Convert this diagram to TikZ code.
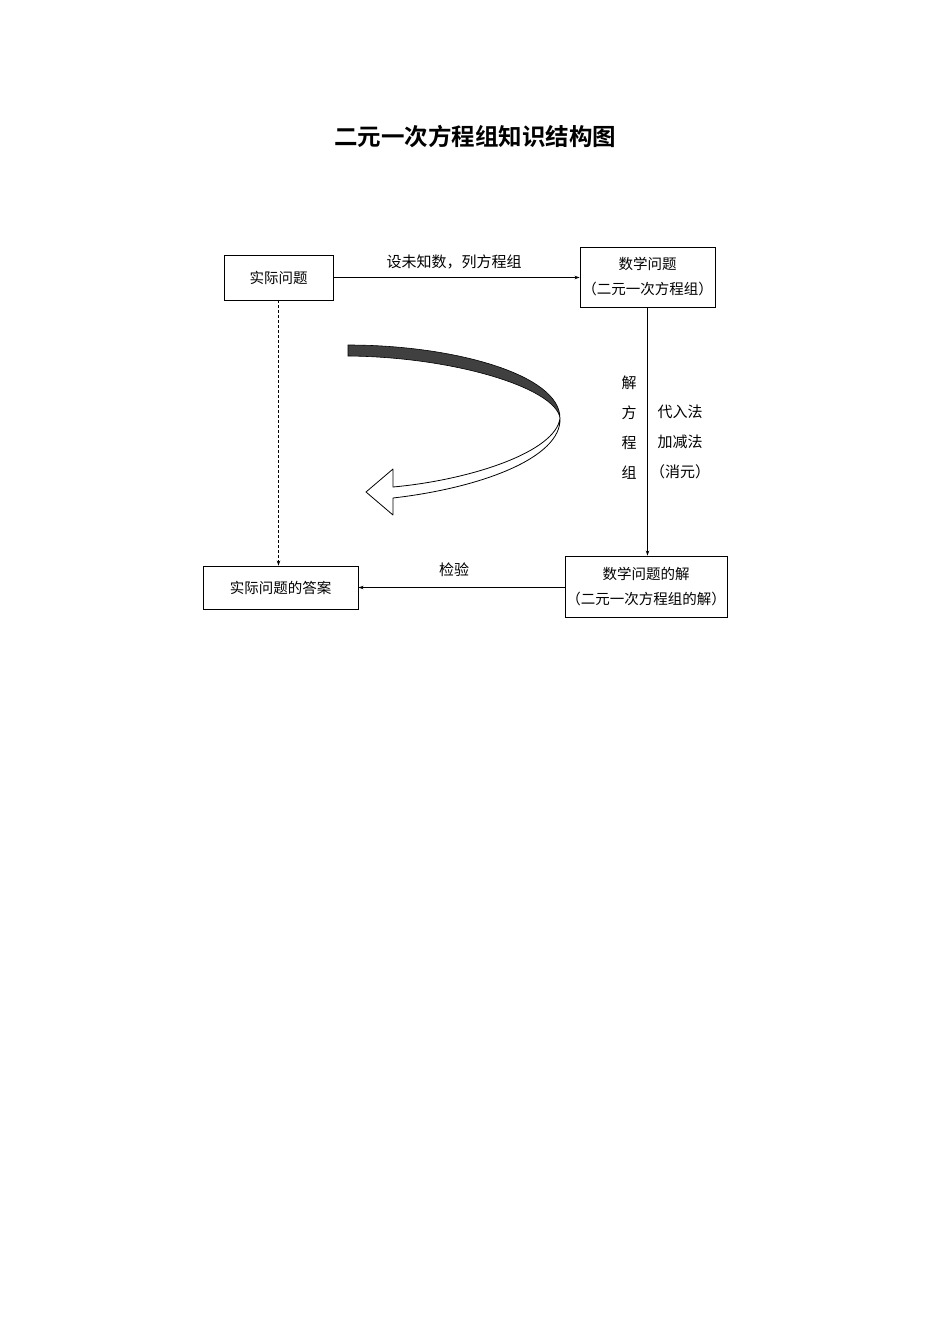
\documentclass[tikz,border=0pt]{standalone}
\usepackage{fontspec}
\setmainfont{Noto Sans CJK SC}
\newfontfamily\cjk{Noto Sans CJK SC}
\newfontfamily\cjkb{Noto Sans CJK SC Bold}
\usetikzlibrary{arrows.meta}
\begin{document}
\begin{tikzpicture}[x=1pt,y=-1pt,
  boxst/.style={draw,line width=0.9pt,inner sep=0pt,align=center,font=\cjk\fontsize{14.5}{25}\selectfont},
  lab/.style={font=\cjk\fontsize{15}{17}\selectfont,inner sep=0pt},
  conn/.style={line width=0.7pt,-{Stealth[length=5pt,width=3.5pt]}}]
\useasboundingbox (0,0) rectangle (950,1344);
\node[font=\cjkb\fontsize{23.5}{26}\selectfont] (title) at (475,137) {二元一次方程组知识结构图};
\node[boxst,minimum width=109pt,minimum height=45pt] (b1) at (278.5,277.5) {实际问题};
\node[boxst,minimum width=135pt,minimum height=60pt] (b2) at (647.5,277) {数学问题\\（二元一次方程组）};
\node[boxst,minimum width=155pt,minimum height=43pt] (b3) at (280.5,587.5) {实际问题的答案};
\node[boxst,minimum width=162pt,minimum height=61pt] (b4) at (646,586.5) {数学问题的解\\（二元一次方程组的解）};
\draw[conn] (b1.east) -- (b2.west|-b1.east);
\node[lab] (l1) at (454,262) {设未知数，列方程组};
\draw[conn] (b2.south) -- (b2.south|-b4.north);
\node[lab,align=center,font=\cjk\fontsize{15}{30}\selectfont] (l2) at (629,428) {解\\方\\程\\组};
\node[lab,align=center,font=\cjk\fontsize{15}{30}\selectfont] (l3) at (680,442) {代入法\\加减法\\（消元）};
\draw[conn] (b4.west|-b3.east) -- (b3.east);
\node[lab] (l4) at (454,570) {检验};
\draw[conn,dashed,dash pattern=on 3pt off 2pt] (b1.south) -- (b1.south|-b3.north);
% curved ribbon arrow
\fill[black!75,draw=black,line width=0.6pt] (348,345) .. controls (455,345) and (560,375) .. (560,418)
  .. controls (555,388) and (455,357) .. (348,356) -- cycle;
\draw[fill=white,line width=0.8pt,line join=round] (560,418)
  .. controls (562,458) and (480,488) .. (393,498)
  -- (393,515) -- (366,492) -- (393,469) -- (393,487)
  .. controls (470,480) and (556,452) .. (560,418) -- cycle;
\end{tikzpicture}
\end{document}
